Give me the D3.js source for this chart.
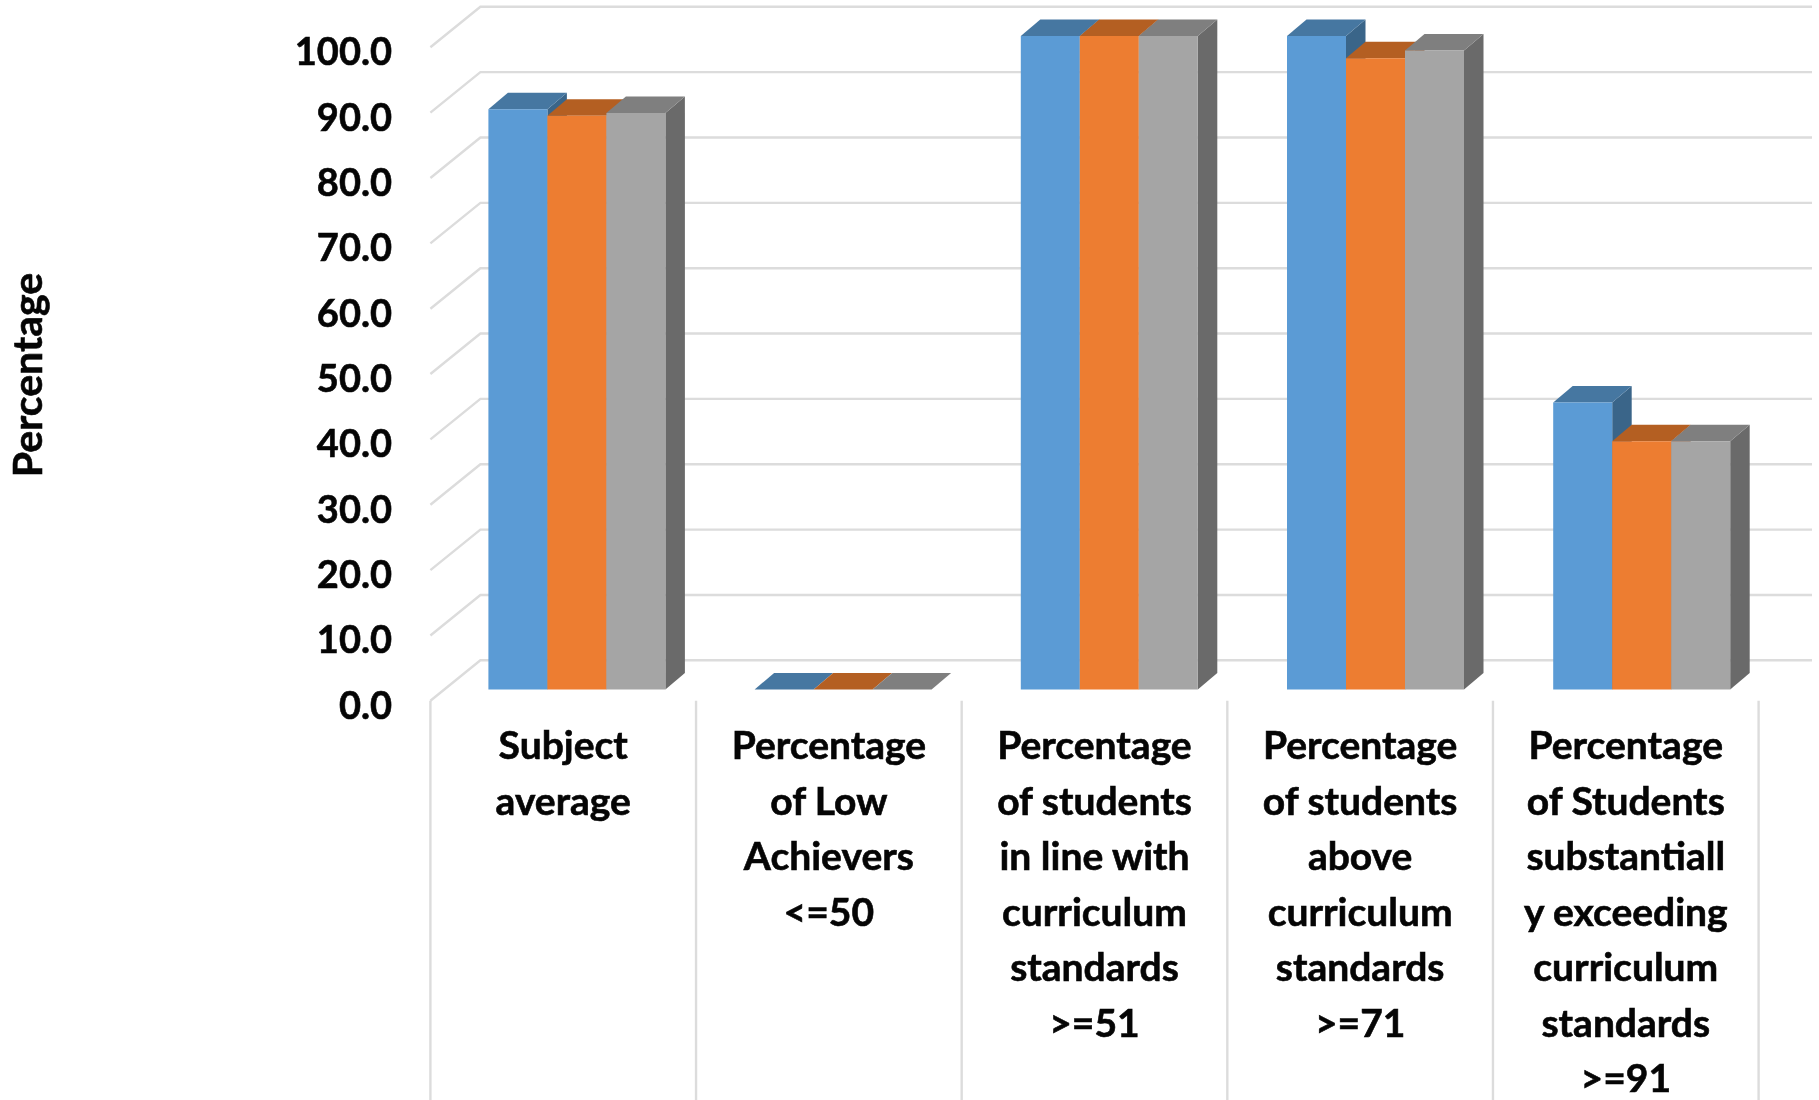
<!DOCTYPE html>
<html><head><meta charset="utf-8">
<script src="https://cdn.jsdelivr.net/npm/d3@7"></script>
<style>html,body{margin:0;padding:0;background:#fff;overflow:hidden}svg{display:block;filter:blur(0.6px)}text{font-family:Lato,"Open Sans",sans-serif;font-weight:700;fill:#050505;stroke:#050505;stroke-width:0.6px}</style>
</head><body><svg id="c" width="1819" height="1100"></svg>
<script>
const categories = [
  ["Subject","average"],
  ["Percentage","of Low","Achievers","<=50"],
  ["Percentage","of students","in line with","curriculum","standards",">=51"],
  ["Percentage","of students","above","curriculum","standards",">=71"],
  ["Percentage","of Students","substantiall","y exceeding","curriculum","standards",">=91"]
];
const seriesA = [88.8, 0, 100, 100, 43.9];
const seriesB = [87.8, 0, 100, 96.6, 38.0];
const seriesC = [88.2, 0, 100, 97.8, 38.0];
const ticks = [0,10,20,30,40,50,60,70,80,90,100];
const colors = [
  {front:"#5B9BD5", top:"#4677A1", side:"#3A6589"},
  {front:"#ED7D31", top:"#B45F22", side:"#9E5320"},
  {front:"#A5A5A5", top:"#7F7F7F", side:"#6A6A6A"}
];
const svg = d3.select("#c");
const idx = d3.range(categories.length);
const x = d3.scaleBand().domain(idx).range([430.4,1758.6]);
const xBar = d3.scaleBand().domain(idx).range([488.4,1819.4]);
const barW = 59;
const xs = d3.scaleBand().domain([0,1,2]).range([0, 3*barW]);
const h = d3.scaleLinear().domain([0,100]).range([0,653.5]);
const frontY = d3.scaleLinear().domain([0,100]).range([700.8,47.3]);
const gridDx = 52, gridDy = 40.5, backRight = 1812;
const dx = 19.5, dy = 16.5, baseY = 689.5;
const grid = svg.append("g").attr("stroke","#DCDCDC").attr("stroke-width",2.4).attr("fill","none");
ticks.forEach(t=>{
  const y=frontY(t);
  grid.append("path").attr("d",d3.line()([[x.range()[0],y],[x.range()[0]+gridDx-2,y-gridDy],[backRight,y-gridDy]]));
});
[...idx, idx.length].forEach(i=>{
  const xx = i<idx.length ? x(i) : x.range()[1];
  grid.append("line").attr("x1",xx).attr("x2",xx).attr("y1",frontY(0)).attr("y2",1100);
});
const all=[seriesA,seriesB,seriesC];
const bars=svg.append("g");
const poly=(p,f)=>bars.append("polygon").attr("points",p.map(q=>q.join(",")).join(" ")).attr("fill",f);
idx.forEach(i=>{
  all.forEach((s,k)=>{
    const l=xBar(i)+xs(k), r=l+barW, t=baseY-h(s[i]), c=colors[k];
    poly([[r,t],[r+dx,t-dy],[r+dx,baseY-dy],[r,baseY]],c.side);
    poly([[l,t],[l+dx,t-dy],[r+dx,t-dy],[r,t]],c.top);
    if(s[i]>0) poly([[l,t],[r,t],[r,baseY],[l,baseY]],c.front);
  });
});
const yAxisLabels=svg.append("g").attr("font-size",38).attr("text-anchor","end");
ticks.forEach(t=>yAxisLabels.append("text").attr("x",392).attr("y",frontY(t)+18).text(d3.format(".1f")(t)));
const catLabels=svg.append("g").attr("font-size",39).attr("text-anchor","middle");
categories.forEach((lines,i)=>{
  lines.forEach((ln,j)=>catLabels.append("text").attr("x",x(i)+x.bandwidth()/2).attr("y",759+j*55.5).text(ln));
});
svg.append("text").attr("font-size",41).attr("text-anchor","middle").attr("transform","translate(42,375) rotate(-90)").text("Percentage");
</script></body></html>
